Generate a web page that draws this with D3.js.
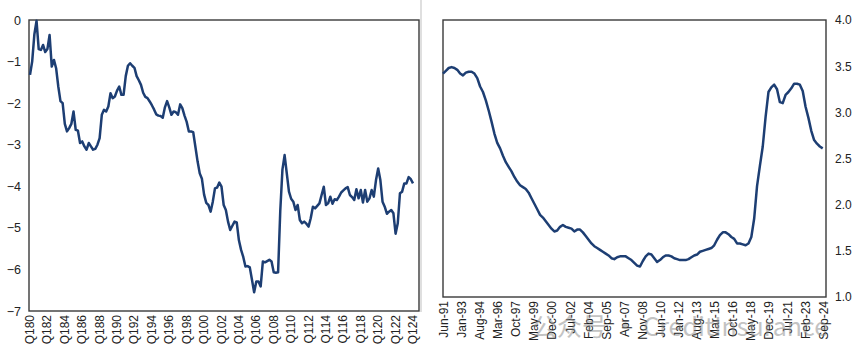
<!DOCTYPE html>
<html><head><meta charset="utf-8">
<script src="https://cdn.jsdelivr.net/npm/d3@7"></script>
<style>html,body{margin:0;padding:0;background:#fff;}svg{display:block;font-family:Arial,"Liberation Sans",sans-serif;}</style>
</head><body>
<svg id="c" width="865" height="361"></svg>
<script>
// Left panel: quarterly, Q1 1980 .. Q1 2024
const leftValues = [-1.32,-1.0,-0.35,-0.02,-0.7,-0.72,-0.6,-0.77,-0.7,-0.36,
-1.12,-0.96,-1.16,-1.6,-1.95,-2.0,-2.5,-2.68,-2.6,-2.5,
-2.2,-2.64,-2.66,-2.96,-2.92,-3.04,-3.12,-2.96,-3.04,-3.12,
-3.1,-3.0,-2.84,-2.28,-2.16,-2.2,-2.08,-1.76,-1.88,-1.84,
-1.7,-1.6,-1.8,-1.8,-1.35,-1.1,-1.04,-1.1,-1.15,-1.35,
-1.45,-1.56,-1.75,-1.85,-1.88,-1.96,-2.05,-2.15,-2.27,-2.3,
-2.31,-2.35,-2.1,-1.95,-2.1,-2.28,-2.2,-2.22,-2.28,-2.03,
-2.12,-2.3,-2.45,-2.68,-2.68,-2.7,-3.05,-3.4,-3.69,-3.82,
-4.2,-4.4,-4.45,-4.61,-4.37,-4.05,-4.03,-3.91,-4.01,-4.45,
-4.57,-4.85,-5.05,-4.95,-4.85,-4.87,-5.3,-5.53,-5.7,-5.93,
-5.92,-5.95,-6.25,-6.55,-6.29,-6.29,-6.41,-5.81,-5.83,-5.8,
-5.77,-5.81,-6.07,-6.08,-6.07,-4.6,-3.6,-3.25,-3.69,-4.13,
-4.3,-4.37,-4.57,-4.45,-4.81,-4.89,-4.85,-4.9,-4.97,-4.77,
-4.49,-4.53,-4.47,-4.41,-4.21,-4.01,-4.45,-4.41,-4.25,-4.42,
-4.31,-4.33,-4.25,-4.15,-4.1,-4.05,-4.02,-4.21,-4.26,-4.33,
-4.07,-4.29,-4.09,-4.39,-4.09,-4.37,-4.29,-4.09,-4.25,-3.85,
-3.57,-3.85,-4.37,-4.49,-4.66,-4.61,-4.57,-4.65,-5.14,-4.89,
-4.17,-4.13,-3.93,-3.93,-3.78,-3.83,-3.93];
const leftTickLabels = ["Q180","Q182","Q184","Q186","Q188","Q190","Q192","Q194","Q196","Q198","Q100","Q102","Q104","Q106","Q108","Q110","Q112","Q114","Q116","Q118","Q120","Q122","Q124"];
const leftYTicks = [0,-1,-2,-3,-4,-5,-6,-7];

// Right panel: every 3 months, Jun-91 .. Sep-24
const rightValues = [3.42,3.45,3.48,3.49,3.48,3.46,3.42,3.40,3.43,3.44,
3.44,3.42,3.37,3.28,3.22,3.13,3.02,2.90,2.77,2.67,
2.61,2.53,2.46,2.41,2.36,2.30,2.25,2.21,2.19,2.17,
2.13,2.07,2.01,1.95,1.89,1.86,1.82,1.78,1.74,1.71,
1.72,1.76,1.78,1.76,1.75,1.74,1.71,1.73,1.73,1.70,
1.66,1.62,1.58,1.55,1.53,1.51,1.49,1.47,1.45,1.42,
1.41,1.43,1.44,1.44,1.44,1.42,1.40,1.37,1.34,1.33,
1.39,1.44,1.47,1.46,1.42,1.38,1.40,1.43,1.45,1.45,
1.44,1.42,1.41,1.40,1.40,1.40,1.41,1.43,1.45,1.46,
1.49,1.50,1.51,1.52,1.53,1.56,1.62,1.67,1.70,1.70,
1.68,1.65,1.63,1.58,1.58,1.57,1.56,1.58,1.65,1.85,
2.20,2.42,2.63,2.95,3.22,3.27,3.30,3.25,3.11,3.10,
3.19,3.22,3.26,3.31,3.31,3.30,3.23,3.06,2.94,2.80,
2.70,2.66,2.63,2.61];
const rightTickLabels = ["Jun-91","Jan-93","Aug-94","Mar-96","Oct-97","May-99","Dec-00","Jul-02","Feb-04","Sep-05","Apr-07","Nov-08","Jun-10","Jan-12","Aug-13","Mar-15","Oct-16","May-18","Dec-19","Jul-21","Feb-23","Sep-24"];
const rightYTicks = [1.0,1.5,2.0,2.5,3.0,3.5,4.0];

const svg = d3.select("#c");
const lineColor = "#1d3e73";
const frameColor = "#3a3a3a";

// separator
svg.append("line").attr("x1",421).attr("x2",421).attr("y1",0).attr("y2",312)
  .attr("stroke","#d4d4d4").attr("stroke-width",1.5);

// ---- Left panel
const Lx = d3.scaleLinear().domain([0,176]).range([30,413]);
const Ly = d3.scaleLinear().domain([-7,0]).range([311,20]);
svg.append("rect").attr("x",29).attr("y",20).attr("width",390).attr("height",291)
  .attr("fill","none").attr("stroke",frameColor).attr("stroke-width",1.4);
svg.append("path").datum(leftValues)
  .attr("d", d3.line().x((d,i)=>Lx(i)).y(d=>Ly(d)))
  .attr("fill","none").attr("stroke",lineColor).attr("stroke-width",2.5).attr("stroke-linejoin","round");
const gLy = svg.append("g").attr("transform","translate(29,0)")
  .call(d3.axisLeft(Ly).tickValues(leftYTicks).tickSize(0).tickPadding(8).tickFormat(d3.format("d")));
gLy.select(".domain").remove();
gLy.selectAll("text").attr("font-size",12.5).attr("fill","#222").attr("font-family","Arial, 'Liberation Sans', sans-serif");

const gLx = svg.append("g");
gLx.selectAll("text").data(leftTickLabels).join("text")
  .attr("transform",(d,i)=>`translate(${Lx(i*8)+4},315) rotate(-90)`)
  .attr("text-anchor","end").attr("font-size",12).attr("fill","#222")
  .text(d=>d);

// ---- Right panel
const Rx = d3.scaleLinear().domain([0,399]).range([443,822.7]);
const Ry = d3.scaleLinear().domain([1,4]).range([297,20]);
svg.append("rect").attr("x",443).attr("y",20).attr("width",383).attr("height",277)
  .attr("fill","none").attr("stroke",frameColor).attr("stroke-width",1.4);
svg.append("path").datum(rightValues)
  .attr("d", d3.line().x((d,i)=>Rx(i*3)).y(d=>Ry(d)))
  .attr("fill","none").attr("stroke",lineColor).attr("stroke-width",2.5).attr("stroke-linejoin","round");
const gRy = svg.append("g").attr("transform","translate(826,0)")
  .call(d3.axisRight(Ry).tickValues(rightYTicks).tickSize(0).tickPadding(9).tickFormat(d3.format(".1f")));
gRy.select(".domain").remove();
gRy.selectAll("text").attr("font-size",12).attr("fill","#222").attr("font-family","Arial, 'Liberation Sans', sans-serif");

const gRx = svg.append("g");
gRx.selectAll("text").data(rightTickLabels).join("text")
  .attr("transform",(d,i)=>`translate(${Rx(i*19)+5},301) rotate(-90)`)
  .attr("text-anchor","end").attr("font-size",12).attr("fill","#222")
  .text(d=>d);

// watermark
svg.append("text").attr("x",532).attr("y",336).attr("font-size",25)
  .attr("fill","#888").attr("opacity",0.5)
  .attr("font-family","'Noto Sans CJK SC', Arial, sans-serif")
  .text("公众号 · CreditInsurance");
</script>
</body></html>
